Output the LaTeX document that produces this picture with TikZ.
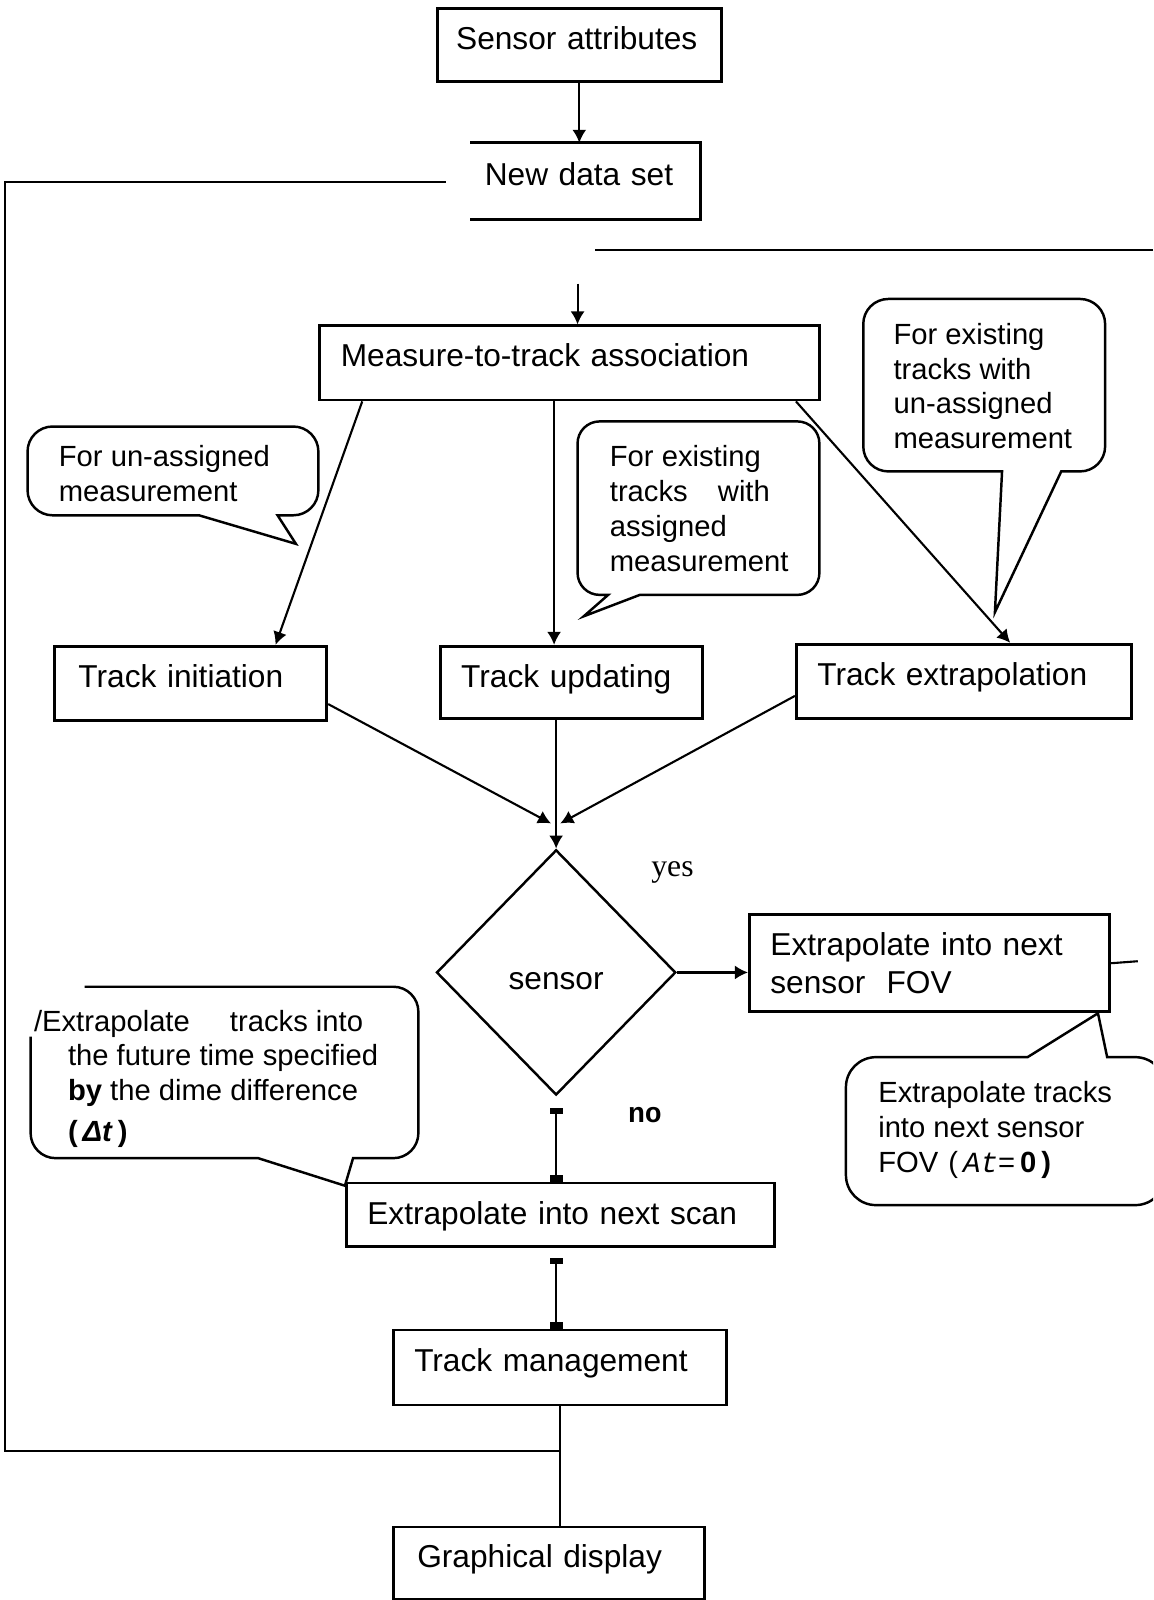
\documentclass[tikz,border=0pt]{standalone}
\usepackage{fontspec}
\setmainfont{Liberation Sans}
\newfontfamily\yesfont{Liberation Serif}
\newfontfamily\nofont{Liberation Mono}
\usetikzlibrary{shapes.geometric,arrows.meta,calc}

\begin{document}
\begin{tikzpicture}[x=0.0102cm,y=-0.0102cm,
	box/.style={draw,line width=0.8pt,anchor=north west,align=left,inner xsep=0.21cm,inner ysep=0pt,text height=0.41cm,font=\fontsize{9pt}{10.4pt}\selectfont},
	note/.style={anchor=north west,align=left,inner sep=0pt,font=\fontsize{8.3pt}{9.9pt}\selectfont},
	balloon/.style={line width=0.7pt},
	link/.style={line width=0.6pt},
	>={Latex[length=0.13cm,width=0.14cm]},
	caps/.style={link,{Rectangle[length=0.06cm,width=0.13cm]}-{Rectangle[length=0.07cm,width=0.13cm]}}]
	\useasboundingbox (0,0) rectangle (1130,1568);
	\clip (0,0) rectangle (1130,1568);

	\node[box,text width=2.46cm,inner xsep=0.19cm,text depth=0.32cm] (sa) at (427,7) {Sensor attributes};
	\node[box,draw=none,text width=2.01cm,inner xsep=0.13cm,text depth=0.33cm] (nds) at (461,140) {New data set};
	\draw[line width=0.8pt] (nds.north west) -- (nds.north east) -- (nds.south east) -- (nds.south west);
	\node[box,text width=4.57cm,text depth=0.33cm] (mta) at (312,318) {Measure-to-track association};
	\node[box,text width=2.24cm,inner xsep=0.24cm,text depth=0.33cm] (ti) at (52,632) {Track initiation};
	\node[box,text width=2.20cm,text depth=0.31cm] (tu) at (430,632) {Track updating};
	\node[box,text width=2.93cm,text depth=0.33cm] (te) at (779,630) {Track extrapolation};
	\node[draw,diamond,line width=0.7pt,minimum width=2.39cm,minimum height=2.45cm,inner sep=0pt,text height=0.5cm,text depth=0.16cm,font=\fontsize{9pt}{10.4pt}\selectfont] (dia) at (545,953) {sensor};
	\node[draw,line width=0.8pt,anchor=north west,align=left,inner xsep=0.21cm,inner ysep=0pt,minimum height=0.97cm,text width=3.18cm,font=\fontsize{9pt}{10.6pt}\selectfont] (fov) at (733,895) {Extrapolate into next\\sensor\ \ FOV};
	\node[box,text width=3.86cm,text depth=0.22cm] (scan) at (338,1158) {Extrapolate into next scan};
	\node[box,text width=2.91cm,text depth=0.34cm] (tm) at (384,1302) {Track management};
	\node[box,text width=2.63cm,inner xsep=0.24cm,text depth=0.31cm] (gd) at (384,1495) {Graphical display};

	\node[font=\yesfont\fontsize{9pt}{10pt}\selectfont] (yes) at (659,855) {yes};
	\node[font=\nofont\bfseries\fontsize{8pt}{10pt}\selectfont] (no) at (632,1093) {no};

	\node[note] (cu) at (57,436) {For un-assigned\\measurement};
	\draw[balloon] (195,505) [rounded corners=0.25cm] -- (27,505) -- (27,418) -- (312,418) -- (312,505) [sharp corners] -- (272,505) -- (290,533) -- cycle;
	\node[note] (ca) at (597,436) {For existing\\tracks\hspace{0.22cm} with\\assigned\\measurement};
	\draw[balloon] (596,583) [rounded corners=0.22cm] -- (566,583) -- (566,413) -- (803,413) -- (803,583) [sharp corners] -- (627,583) -- (572,604) -- cycle;
	\node[note] (cx) at (875,316) {For existing\\tracks with\\un-assigned\\measurement};
	\draw[balloon] (982,462) [rounded corners=0.25cm] -- (846,462) -- (846,293) -- (1083,293) -- (1083,462) [sharp corners] -- (1040,462) -- (975,600) -- cycle;
	\node[note] (cd) at (66,989) {\hspace*{-0.34cm}/Extrapolate\hspace{0.32cm} tracks into\\the future time specified\\\textbf{by} the dime difference\\[0.06cm]\textbf{(}\,\textbf{\textit{Δt}}\,\textbf{)}};
	\draw[balloon] (30,1016) [rounded corners=0.25cm] -- (30,1135) [sharp corners] -- (253,1135) -- (338,1162) -- (346,1135) [rounded corners=0.25cm] -- (410,1135) -- (410,967) [sharp corners] -- (83,967);
	\node[note] (cf) at (860,1059) {Extrapolate tracks\\into next sensor\\FOV\hspace{0.1cm}(\hspace{0.05cm}{\nofont\itshape At}=\hspace{0.05cm}\textbf{0}\hspace{0.05cm}\textbf{)}};
	\draw[balloon] (1007,1036) [rounded corners=0.3cm] -- (829,1036) -- (829,1181) -- (1142,1181) -- (1142,1036) [sharp corners] -- (1085,1036) -- (1076,993) -- cycle;

	\coordinate (mtain) at (566,278);
	\coordinate (rin) at (583,245);
	\coordinate (rtop) at (1130,245);
	\coordinate (fovout) at (1115,942);
	\coordinate (ml) at (540,807);
	\coordinate (mr) at (549,807);
	\coordinate (fbl) at (5,1422);
	\coordinate (fbt) at (437,178);
	\coordinate (j) at (tm.south |- fbl);

	\draw[link,->] (sa.south) -- (sa.south |- nds.north);
	\draw[link] (rtop) -- (rin);
	\draw[link,->] (mtain) -- (mtain |- mta.north);
	\draw[link,->] ($(mta.south west)+(43,0)$) -- ($(ti.north west)+(218,0)$);
	\draw[link,->] ($(mta.south west)+(231,0)$) -- ($(tu.north west)+(113,0)$);
	\draw[link,->] ($(mta.south west)+(468,0)$) -- ($(te.north west)+(211,0)$);
	\draw[link,->] ($(ti.north east)+(0,58)$) -- (ml);
	\draw[link,->] ($(te.north west)+(0,52)$) -- (mr);
	\draw[link,->] (dia.north |- tu.south) -- (dia.north);
	\draw[link,->] (dia.east) -- (dia.east -| fov.west);
	\draw[link] (fov.east) -- (fovout);
	\draw[caps,shorten <=0.12cm] (dia.south) -- (dia.south |- scan.north);
	\draw[caps,shorten <=0.1cm] (dia.south |- scan.south) -- (dia.south |- tm.north);
	\draw[link] (tm.south) -- (tm.south |- gd.north);
	\draw[link] (j) -- (fbl) |- (fbt);
\end{tikzpicture}
\end{document}
